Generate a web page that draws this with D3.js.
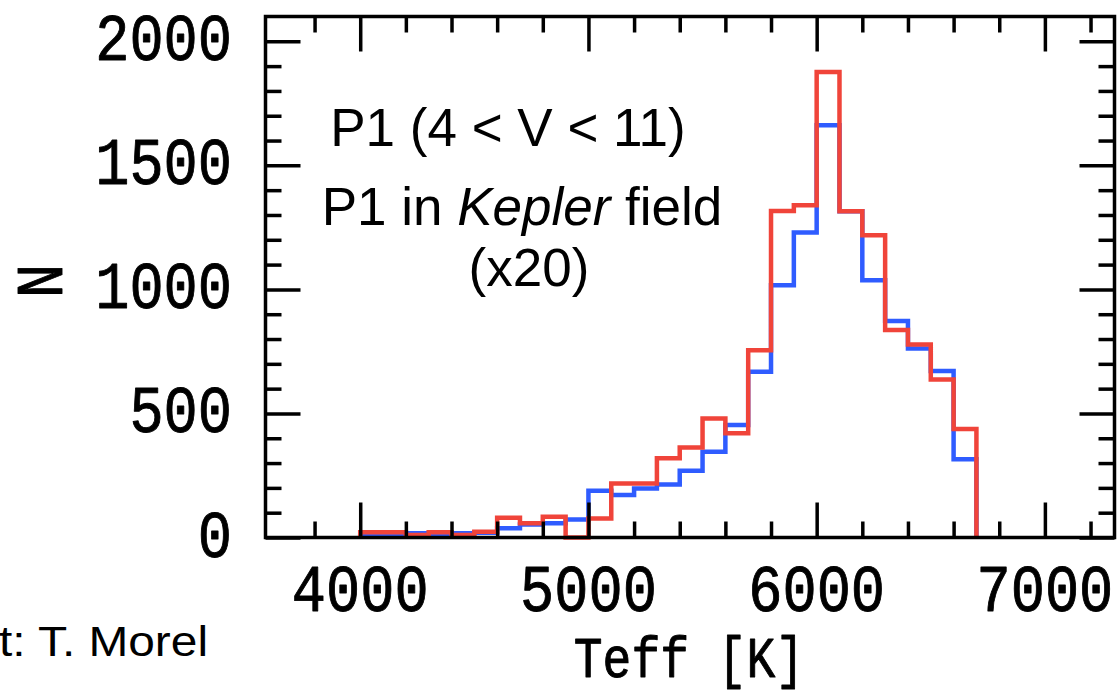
<!DOCTYPE html>
<html>
<head>
<meta charset="utf-8">
<script src="https://cdn.jsdelivr.net/npm/d3@7"></script>
<style>
  html, body { margin: 0; padding: 0; background: #fff; }
  svg { display: block; }
</style>
</head>
<body>
<svg id="chart" width="1119" height="695"></svg>
<script>
// Teff histogram: bin edges in K (100 K bins)
const binEdges = [4000, 4100, 4200, 4300, 4400, 4500, 4600, 4700, 4800, 4900,
                  5000, 5100, 5200, 5300, 5400, 5500, 5600, 5700, 5800, 5900,
                  6000, 6100, 6200, 6300, 6400, 6500, 6600, 6700];

// P1 sample (4 < V < 11), counts per bin
const countsP1 = [5, 5, 17, 10, 17, 19, 37, 52, 57, 73,
                  188, 171, 198, 214, 269, 346, 453, 668, 1017, 1229,
                  1662, 1315, 1037, 873, 762, 671, 315];

// P1 stars in the Kepler field, counts per bin multiplied by 20
const countsKepler = [21, 21, 10, 21, 10, 23, 80, 57, 84, 0,
                      77, 218, 218, 319, 363, 480, 420, 755, 1316, 1339,
                      1876, 1315, 1218, 836, 778, 637, 437];

// Axis ticks
const xMajorTicks = [4000, 5000, 6000, 7000];
const xMinorTicks = [3800, 4200, 4400, 4600, 4800, 5200, 5400, 5600, 5800,
                     6200, 6400, 6600, 6800, 7200];
const xTickLabels = ["4000", "5000", "6000", "7000"];
const yMajorTicks = [0, 500, 1000, 1500, 2000];
const yMinorTicks = [100, 200, 300, 400, 600, 700, 800, 900, 1100, 1200, 1300,
                     1400, 1600, 1700, 1800, 1900];
const yTickLabels = ["0", "500", "1000", "1500", "2000"];

const svg = d3.select("#chart");

const plotLeft = 265.5, plotRight = 1114.5, plotTop = 16.5, plotBottom = 537.5;
const x = d3.scaleLinear().domain([3585, 7305]).range([plotLeft, plotRight]);
const y = d3.scaleLinear().domain([0, 2100]).range([plotBottom, plotTop]);

const monoFont = "'Liberation Mono', 'Courier New', monospace";
const sansFont = "'Liberation Sans', Arial, sans-serif";

// Step outline of a histogram
function stepPoints(counts) {
  const pts = [[binEdges[0], 0]];
  counts.forEach((c, i) => {
    pts.push([binEdges[i], c]);
    pts.push([binEdges[i + 1], c]);
  });
  pts.push([binEdges[binEdges.length - 1], 0]);
  return pts;
}
const line = d3.line().x(d => x(d[0])).y(d => y(d[1]));

svg.append("path")
  .attr("d", line(stepPoints(countsP1)))
  .attr("fill", "none")
  .attr("stroke", "#2f5cff")
  .attr("stroke-width", 4.5)
  .attr("stroke-linejoin", "miter");

svg.append("path")
  .attr("d", line(stepPoints(countsKepler)))
  .attr("fill", "none")
  .attr("stroke", "#f0443a")
  .attr("stroke-width", 4.5)
  .attr("stroke-linejoin", "miter");

// Inward ticks on all four sides
function addAxis(axisFn, scale, values, size, transform) {
  const g = svg.append("g")
    .attr("transform", transform)
    .call(axisFn(scale).tickValues(values).tickSize(-size).tickFormat(""));
  g.select(".domain").remove();
  g.selectAll(".tick line").attr("stroke", "#000").attr("stroke-width", 3.5);
}
addAxis(d3.axisBottom, x, xMajorTicks, 35, `translate(0,${plotBottom})`);
addAxis(d3.axisBottom, x, xMinorTicks, 16, `translate(0,${plotBottom})`);
addAxis(d3.axisTop, x, xMajorTicks, 35, `translate(0,${plotTop})`);
addAxis(d3.axisTop, x, xMinorTicks, 16, `translate(0,${plotTop})`);
addAxis(d3.axisLeft, y, yMajorTicks, 35, `translate(${plotLeft},0)`);
addAxis(d3.axisLeft, y, yMinorTicks, 16, `translate(${plotLeft},0)`);
addAxis(d3.axisRight, y, yMajorTicks, 35, `translate(${plotRight},0)`);
addAxis(d3.axisRight, y, yMinorTicks, 16, `translate(${plotRight},0)`);

// Frame
svg.append("rect")
  .attr("x", plotLeft).attr("y", plotTop)
  .attr("width", plotRight - plotLeft).attr("height", plotBottom - plotTop)
  .attr("fill", "none").attr("stroke", "#000").attr("stroke-width", 3.5);

// Axis lettering in a monospace face, slightly heavier than regular
function monoText(transform, anchor, size, str) {
  return svg.append("text")
    .attr("transform", transform)
    .attr("text-anchor", anchor)
    .attr("font-family", monoFont)
    .attr("font-size", size)
    .attr("fill", "#000")
    .attr("stroke", "#000").attr("stroke-width", 0.8)
    .attr("stroke-linejoin", "round")
    .text(str);
}

// Tick labels
xMajorTicks.forEach((v, i) => {
  monoText(`translate(${x(v)},611) scale(1,1.18)`, "middle", 57, xTickLabels[i]);
});
yMajorTicks.forEach((v, i) => {
  monoText(`translate(232,${y(v) + 19}) scale(1,1.18)`, "end", 57, yTickLabels[i]);
});

// Axis titles
monoText(`translate(689,677) scale(1,1.2)`, "middle", 48, "Teff [K]");
monoText(`translate(62,281) rotate(-90) scale(1,1.18)`, "middle", 57, "N");

// Annotations inside the plot
svg.append("text")
  .attr("x", 508).attr("y", 146)
  .attr("text-anchor", "middle")
  .attr("font-family", sansFont).attr("font-size", 53)
  .text("P1 (4 < V < 11)");
const t2 = svg.append("text")
  .attr("x", 522).attr("y", 225)
  .attr("text-anchor", "middle")
  .attr("font-family", sansFont).attr("font-size", 53);
t2.append("tspan").text("P1 in ");
t2.append("tspan").attr("font-style", "italic").text("Kepler");
t2.append("tspan").text(" field");
svg.append("text")
  .attr("x", 529).attr("y", 286)
  .attr("text-anchor", "middle")
  .attr("font-family", sansFont).attr("font-size", 53)
  .text("(x20)");

// Credit line at the lower-left edge
svg.append("text")
  .attr("x", -1).attr("y", 656)
  .attr("text-anchor", "start")
  .attr("font-family", sansFont).attr("font-size", 42)
  .attr("textLength", 209).attr("lengthAdjust", "spacingAndGlyphs")
  .text("t: T. Morel");
</script>
</body>
</html>
